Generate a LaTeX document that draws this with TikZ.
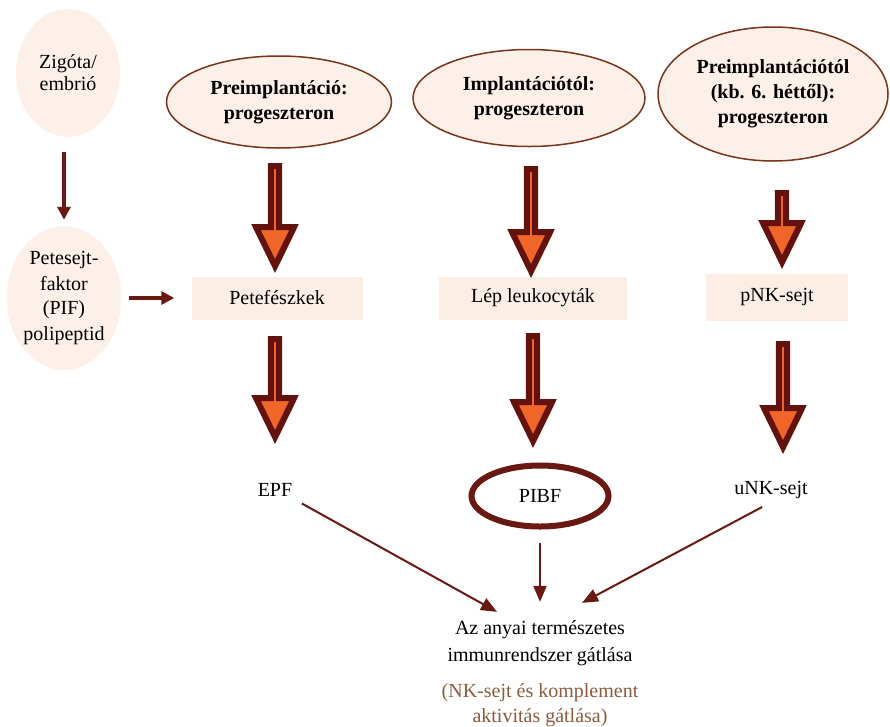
\documentclass[tikz,border=0pt]{standalone}
\usepackage{fontspec}
\setmainfont{Liberation Serif}
\usetikzlibrary{shapes.geometric,shapes.arrows,shadows,arrows.meta,positioning,calc}
\definecolor{arrred}{RGB}{100,18,14}
\definecolor{arrorange}{RGB}{240,102,40}
\definecolor{arrshadow}{RGB}{214,172,130}
\definecolor{ellfill}{RGB}{253,240,232}
\definecolor{ellline}{RGB}{122,52,26}
\definecolor{boxfill}{RGB}{252,238,228}
\definecolor{linered}{RGB}{105,24,18}
\definecolor{notebrown}{RGB}{140,90,60}
\tikzset{
  txt/.style={font=\fontsize{20}{24}\selectfont, align=center},
  cloud/.style={txt, ellipse, fill=ellfill, inner sep=0pt},
  hormone/.style={cloud, draw=ellline, line width=1.5pt, font=\bfseries\fontsize{20}{25}\selectfont},
  organ/.style={txt, rectangle, fill=boxfill, inner sep=0pt},
  bigarr/.style={single arrow, draw=arrred, fill=arrorange, line width=6pt, inner sep=0pt,
    minimum width=38pt, single arrow head extend=10.5pt, single arrow tip angle=52,
    rotate=-90, anchor=west,
    drop shadow={shadow xshift=2.5pt, shadow yshift=-2.5pt, fill=arrshadow, opacity=1}},
  thinarr/.style={draw=linered, line width=2pt, -{Triangle[width=13pt,length=16pt]}},
  thickarr/.style={draw=linered, line width=4.5pt, -{Triangle[width=13pt,length=13pt]}}
}
\begin{document}
\begin{tikzpicture}[x=1pt,y=-1pt]
  \useasboundingbox (0,0) rectangle (890,726);
  % left column
  \node[cloud, minimum width=104pt, minimum height=128pt, font=\fontsize{20}{22}\selectfont] (zyg) at (68,73) {Zigóta/\\embrió};
  \node[cloud, minimum width=112pt, minimum height=144pt, font=\fontsize{20}{25}\selectfont] (pif) at (64,298) {Petesejt-\\faktor\\(PIF)\\polipeptid};
  % hormones
  \node[hormone, minimum width=225pt, minimum height=92pt] (pre) at (279,102) {Preimplantáció:\\progeszteron};
  \node[hormone, minimum width=232pt, minimum height=97pt] (impl) at (529,98) {Implantációtól:\\progeszteron};
  \node[hormone, minimum width=230pt, minimum height=134pt] (late) at (773,94) {Preimplantációtól\\(kb. 6. héttől):\\progeszteron};
  % targets
  \node[organ, minimum width=171pt, minimum height=43pt] (ovary) at (277,298) {Petefészkek};
  \node[organ, minimum width=188pt, minimum height=43pt] (spleen) at (533,298) {Lép leukocyták};
  \node[organ, minimum width=142pt, minimum height=47pt] (pnk) at (777,297) {pNK-sejt};
  % products
  \node[txt] (epf) at (275,490) {EPF};
  \node[txt, ellipse, draw=linered, line width=6pt, fill=white, minimum width=137pt, minimum height=61pt] (pibf) at (540,496) {PIBF};
  \node[txt] (unk) at (771,490) {uNK-sejt};
  \node[txt, font=\fontsize{20}{27}\selectfont] (res) at (540,643) {Az anyai természetes\\immunrendszer gátlása};
  \node[txt, text=notebrown, font=\fontsize{20}{25}\selectfont] (note) at (540,705) {(NK-sejt és komplement\\aktivitás gátlása)};
  % block arrows
  \node[bigarr, minimum height=100pt] (ba1) at (275,163) {};
  \node[bigarr, minimum height=102pt] (ba2) at (531,166) {};
  \node[bigarr, minimum height=69pt] (ba3) at (782,190) {};
  \node[bigarr, minimum height=98pt] (ba4) at (275,336) {};
  \node[bigarr, minimum height=105pt] (ba5) at (533,333) {};
  \node[bigarr, minimum height=103pt] (ba6) at (783,341) {};
  % thin arrows
  \draw[thickarr, shorten <=15pt, shorten >=6pt] (pif.north |- zyg.south) -- (pif.north);
  \draw[thickarr, shorten <=7pt, shorten >=17pt] (pif.east) -- (pif.east -| ovary.west);
  \draw[thinarr, shorten <=7pt] (epf.south east) -- ([xshift=-43pt,yshift=5pt]res.north);
  \draw[thinarr, shorten <=13pt, shorten >=15pt] (pibf.south) -- (pibf.south |- res.north);
  \draw[thinarr, shorten <=10pt] (unk.south) -- ([xshift=42pt,yshift=14pt]res.north);
\end{tikzpicture}
\end{document}
